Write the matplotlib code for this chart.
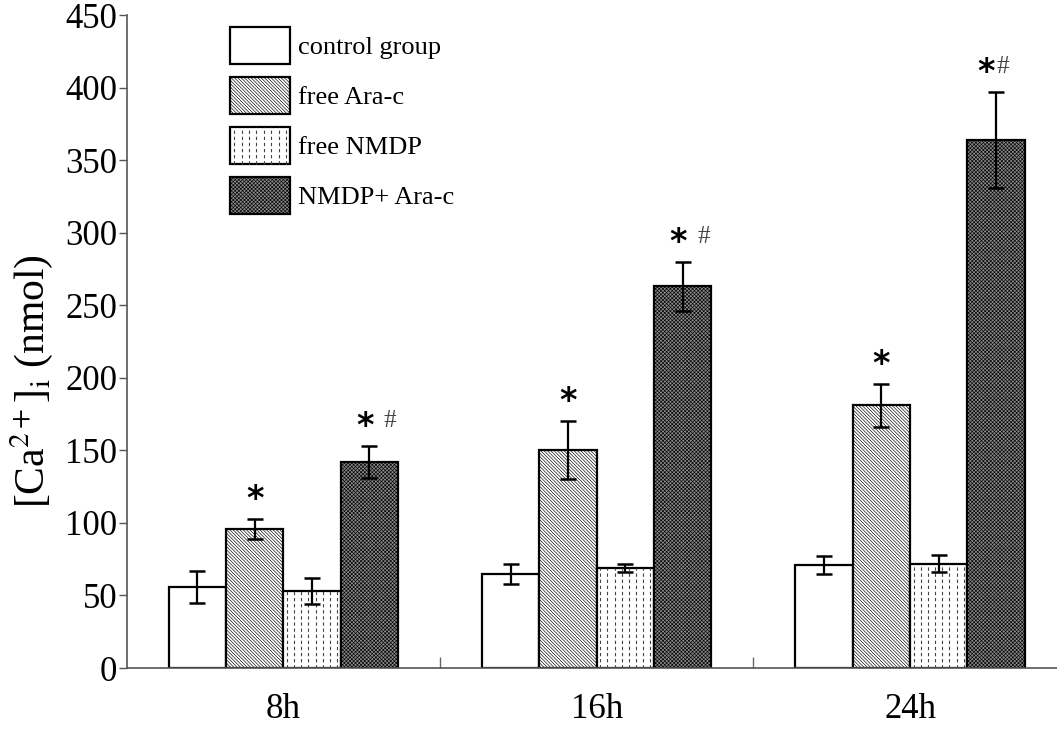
import numpy as np
import matplotlib
matplotlib.use("Agg")
import matplotlib.pyplot as plt
from matplotlib.patches import Rectangle
from matplotlib.lines import Line2D

# ---- data ----
groups = ["8h", "16h", "24h"]
series = ["control group", "free Ara-c", "free NMDP", "NMDP+ Ara-c"]
control = [56, 65, 71]
control_err = [11, 7, 6]
ara = [96, 150, 181]
ara_err = [7, 20, 15]
nmdp = [53, 69, 72]
nmdp_err = [9, 3, 6]
combo = [142, 263, 364]
combo_err = [11, 17, 33]
yticks = [0, 50, 100, 150, 200, 250, 300, 350, 400, 450]

plt.rcParams['font.family'] = ['Liberation Serif', 'DejaVu Serif']
plt.rcParams['mathtext.fontset'] = 'stix'
plt.rcParams['hatch.linewidth'] = 0.45

fig = plt.figure(figsize=(10.57, 7.30), dpi=100)
ax = fig.add_axes([0.1202, 0.0849, 0.8798, 0.8945])

x = np.arange(len(groups))
w = 0.183
vals = [control, ara, nmdp, combo]
errs = [control_err, ara_err, nmdp_err, combo_err]
styles = [
    dict(facecolor='white', hatch=None),
    dict(facecolor='white', hatch='\\' * 10),
    dict(facecolor='white', hatch=None),
    dict(facecolor='#8a8a8a', hatch='x' * 9),
]
containers = []
for i, (v, e, st) in enumerate(zip(vals, errs, styles)):
    pos = x + (i - 1.5) * w
    bc = ax.bar(pos, v, width=w, edgecolor='black', linewidth=1.6,
                label=series[i], zorder=2, **st)
    containers.append(bc)
    ax.errorbar(pos, v, yerr=e, fmt='none', ecolor='black', elinewidth=1.6,
                capsize=6, capthick=1.8, zorder=4)

# dashed vertical pattern for free NMDP
def dashed_fill(rect):
    x0, w0, h0 = rect.get_x(), rect.get_width(), rect.get_height()
    xs = x0 + w0 * (np.arange(8) + 0.5) / 8
    lc = ax.vlines(xs, 0, h0, colors='#444444', linestyles=(0, (3, 2.5)),
                   linewidth=0.8, zorder=2.5)
    lc.set_clip_path(rect)

for r in containers[2]:
    dashed_fill(r)

# significance marks
def mark(xc, yv, dx_star, dx_hash=None):
    ax.annotate('*', (xc, yv), xytext=(dx_star, 14), textcoords='offset points',
                ha='center', va='center', fontsize=24, fontweight='bold',
                family='DejaVu Sans', color='black')
    if dx_hash is not None:
        ax.annotate('#', (xc, yv), xytext=(dx_hash, 18), textcoords='offset points',
                    ha='center', va='center', fontsize=18, color='#444444')

for i in range(len(groups)):
    xa = x[i] - 0.5 * w
    mark(xa, ara[i] + ara_err[i], 0)
    xc = x[i] + 1.5 * w
    if i < 2:
        mark(xc, combo[i] + combo_err[i], -3, 15)
    else:
        mark(xc, combo[i] + combo_err[i], -7, 5)

ax.set_xlim(-0.4986, 2.469)
ax.set_ylim(0, 450)
ax.set_yticks(yticks)
ax.set_yticklabels([str(t) for t in yticks], fontsize=25)
ax.set_xticks(x)
ax.set_xticklabels(groups, fontsize=25)
ax.tick_params(axis='x', length=0, pad=18)
ax.set_xticks([0.5, 1.5], minor=True)
ax.tick_params(axis='x', which='minor', direction='in', length=8, color='#666666', width=1)
ax.tick_params(axis='y', direction='out', length=6, color='#555555', width=1, pad=1)
for s in ['top', 'right']:
    ax.spines[s].set_visible(False)
for s in ['left', 'bottom']:
    ax.spines[s].set_color('#555555')
    ax.spines[s].set_linewidth(1.2)

ax.set_ylabel(r'[Ca$^{2+}$]$_{\mathrm{i}}$ (nmol)', fontsize=30)
ax.yaxis.set_label_coords(-0.077, 0.44)

class DashedHandler:
    def legend_artist(self, legend, orig_handle, fontsize, handlebox):
        x0, y0 = -handlebox.xdescent, -handlebox.ydescent
        wd, ht = handlebox.width, handlebox.height
        tr = handlebox.get_transform()
        r = Rectangle([x0, y0], wd, ht, facecolor='white', edgecolor='black',
                      linewidth=1.6, transform=tr)
        handlebox.add_artist(r)
        for k in range(8):
            xx = x0 + wd * (k + 0.5) / 8
            ln = Line2D([xx, xx], [y0, y0 + ht], color='#444444', linewidth=0.8,
                        linestyle=(0, (3, 2.5)), transform=tr)
            handlebox.add_artist(ln)
        return r

handles = [c.patches[0] for c in containers]
leg = ax.legend(handles, series, loc='upper left', bbox_to_anchor=(0.111, 0.982),
                frameon=False, fontsize=19, handlelength=2.27, handleheight=1.78,
                labelspacing=0.5, handletextpad=0.3, borderpad=0, borderaxespad=0,
                handler_map={containers[2].patches[0]: DashedHandler()})

fig.savefig('out.png', dpi=100)
